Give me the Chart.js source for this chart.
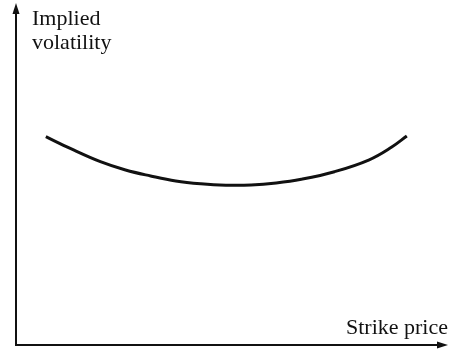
<!DOCTYPE html>
<html>
<head>
<meta charset="utf-8">
<script src="https://cdn.jsdelivr.net/npm/chart.js@4/dist/chart.umd.min.js"></script>
<style>
  html, body { margin: 0; padding: 0; background: #fff; }
  #wrap { width: 450px; height: 349px; }
</style>
</head>
<body>
<div id="wrap"><canvas id="smileChart" width="450" height="349"></canvas></div>
<script>
// Volatility smile: strike (x) against implied volatility (y), both in relative units
const strikes = [6.91, 12.56, 19.53, 25.35, 31.16, 36.98, 42.79, 48.60, 54.42, 60.23, 66.05, 73.72, 81.63, 86.98, 90.47];
const impliedVol = [60.91, 57.46, 53.60, 51.17, 49.42, 47.95, 47.13, 46.73, 46.78, 47.37, 48.45, 50.67, 54.09, 57.89, 61.11];

const yAxisLabel = ['Implied', 'volatility'];
const xAxisLabel = 'Strike price';

const serif = '"Liberation Serif", "DejaVu Serif", serif';

// draws both axes as arrows and writes the axis captions
const arrowAxes = {
    id: 'arrowAxes',
    afterDraw(chart) {
        const ctx = chart.ctx;
        const a = chart.chartArea;
        ctx.save();
        ctx.strokeStyle = '#111';
        ctx.fillStyle = '#111';
        ctx.lineWidth = 2;

        ctx.beginPath();
        ctx.moveTo(a.left, a.bottom);
        ctx.lineTo(a.left, a.top + 6);
        ctx.moveTo(a.left - 1, a.bottom);
        ctx.lineTo(a.right - 6, a.bottom);
        ctx.stroke();

        // arrow heads
        ctx.beginPath();
        ctx.moveTo(a.left, a.top);
        ctx.lineTo(a.left - 3.5, a.top + 11);
        ctx.lineTo(a.left + 3.5, a.top + 11);
        ctx.closePath();
        ctx.fill();

        ctx.beginPath();
        ctx.moveTo(a.right, a.bottom);
        ctx.lineTo(a.right - 11, a.bottom - 3.5);
        ctx.lineTo(a.right - 11, a.bottom + 3.5);
        ctx.closePath();
        ctx.fill();

        ctx.font = '22px ' + serif;
        ctx.textBaseline = 'alphabetic';
        ctx.textAlign = 'left';
        ctx.fillText(yAxisLabel[0], a.left + 16, a.top + 22);
        ctx.fillText(yAxisLabel[1], a.left + 16, a.top + 46);

        ctx.textAlign = 'right';
        ctx.fillText(xAxisLabel, a.right, a.bottom - 11);
        ctx.restore();
    }
};

new Chart(document.getElementById('smileChart').getContext('2d'), {
    type: 'line',
    data: {
        datasets: [{
            data: strikes.map((s, i) => ({ x: s, y: impliedVol[i] })),
            borderColor: '#111',
            borderWidth: 3,
            pointRadius: 0,
            tension: 0.4,
            fill: false
        }]
    },
    options: {
        responsive: false,
        animation: false,
        layout: {
            padding: { left: 16, right: 2, top: 3, bottom: 4 }
        },
        plugins: {
            legend: { display: false },
            tooltip: { enabled: false }
        },
        scales: {
            x: {
                type: 'linear',
                min: 0,
                max: 100,
                display: false
            },
            y: {
                min: 0,
                max: 100,
                display: false
            }
        }
    },
    plugins: [arrowAxes]
});
</script>
</body>
</html>
